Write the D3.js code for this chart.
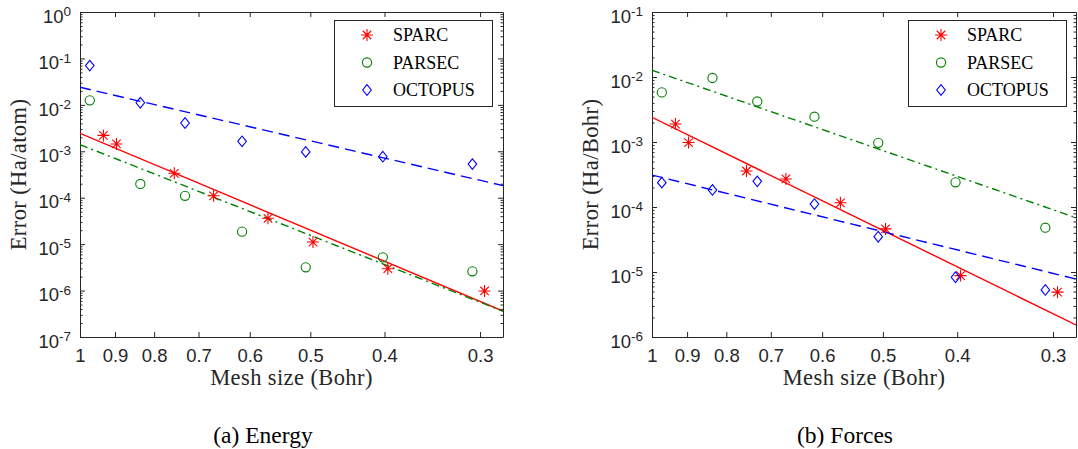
<!DOCTYPE html>
<html>
<head>
<meta charset="utf-8">
<script src="https://cdn.jsdelivr.net/npm/d3@7"></script>
<style>
  body { margin: 0; background: #fff; }
  svg { display: block; }
</style>
</head>
<body>
<script>
// mesh sizes (Bohr)
var meshSparc = [0.932, 0.896, 0.753, 0.669, 0.568, 0.496, 0.396, 0.296];
var meshOther = [0.971, 0.834, 0.729, 0.614, 0.507, 0.402, 0.307];
var fitMesh = [1, 0.28];

// (a) energy error, Ha/atom
var energySparc = [2.2e-3, 1.44e-3, 3.36e-4, 1.1e-4, 3.6e-5, 1.11e-5, 2.96e-6, 9.8e-7];
var energyParsec = [1.25e-2, 1.98e-4, 1.1e-4, 1.86e-5, 3.17e-6, 5.2e-6, 2.6e-6];
var energyOctopus = [7.0e-2, 1.11e-2, 4.07e-3, 1.64e-3, 9.7e-4, 7.65e-4, 5.3e-4];
var energyFitSparc = [2.44e-3, 3.63e-7];
var energyFitParsec = [1.39e-3, 3.6e-7];
var energyFitOctopus = [2.39e-2, 1.82e-4];

// (b) force error, Ha/Bohr
var forceSparc = [1.89e-3, 9.8e-4, 3.58e-4, 2.7e-4, 1.16e-4, 4.6e-5, 8.8e-6, 4.9e-6];
var forceParsec = [5.8e-3, 9.66e-3, 4.2e-3, 2.45e-3, 9.7e-4, 2.4e-4, 4.8e-5];
var forceOctopus = [2.37e-4, 1.83e-4, 2.48e-4, 1.11e-4, 3.49e-5, 8.3e-6, 5.3e-6];
var forceFitSparc = [2.4e-3, 1.53e-6];
var forceFitParsec = [1.27e-2, 6.84e-5];
var forceFitOctopus = [3.1e-4, 7.8e-6];

var seriesNames = ["SPARC", "PARSEC", "OCTOPUS"];
var xTicks = [1, 0.9, 0.8, 0.7, 0.6, 0.5, 0.4, 0.3];
var xTickLabels = ["1", "0.9", "0.8", "0.7", "0.6", "0.5", "0.4", "0.3"];
var energyExps = [-7, -6, -5, -4, -3, -2, -1, 0];
var forceExps = [-6, -5, -4, -3, -2, -1];

var width = 1078, height = 449;
var top_ = 12, bottom = 337;
var axisColor = "#262626";
var serif = "'Liberation Serif', 'Times New Roman', serif";
var sans = "'Liberation Sans', Arial, Helvetica, sans-serif";

var styles = [
  {color: "#ff0000", marker: "asterisk", dash: null},
  {color: "#008000", marker: "circle", dash: "8,4,2,4"},
  {color: "#0000ff", marker: "diamond", dash: "11,6"}
];

function markerPath(type) {
  if (type == "asterisk") {
    var s = 6, d = s * 0.7071;
    return `M0,${-s}V${s}M${-s},0H${s}M${-d},${-d}L${d},${d}M${-d},${d}L${d},${-d}`;
  }
  if (type == "diamond") return "M0,-5.3L4.3,0L0,5.3L-4.3,0Z";
  return d3.arc()({innerRadius: 0, outerRadius: 4.6, startAngle: 0, endAngle: 2 * Math.PI});
}

var svg = d3.select("body").append("svg")
    .attr("width", width)
    .attr("height", height)
    .attr("viewBox", [0, 0, width, height]);

function drawPanel(p, idx) {
  var x = d3.scaleLog().domain([fitMesh[0], fitMesh[1]]).range([p.left, p.right]);
  var y = d3.scaleLog()
      .domain([Math.pow(10, p.exps[0]), Math.pow(10, p.exps[p.exps.length - 1])])
      .range([bottom, top_]);

  var major = p.exps.map(e => Math.pow(10, e));
  var minor = [];
  p.exps.slice(0, -1).forEach(e => {
    for (var k = 2; k <= 9; k++) minor.push(k * Math.pow(10, e));
  });

  var g = svg.append("g").attr("color", axisColor);

  svg.append("clipPath").attr("id", "clip" + idx)
    .append("rect")
      .attr("x", p.left).attr("y", top_)
      .attr("width", p.right - p.left).attr("height", bottom - top_);

  // left axis with 10^n labels
  g.append("g")
      .attr("transform", `translate(${p.left},0)`)
      .call(d3.axisLeft(y).tickValues(major).tickSizeInner(-5).tickSizeOuter(0).tickPadding(9))
      .call(a => a.selectAll(".tick text").each(function(d) {
        var t = d3.select(this).text(null)
            .attr("dy", "0.55em")
            .attr("font-family", sans)
            .attr("font-size", 18.5)
            .attr("fill", axisColor);
        t.append("tspan").text("10");
        t.append("tspan").attr("dy", -6.5).attr("font-size", 13.5).text(Math.round(Math.log10(d)));
      }));
  g.append("g")
      .attr("transform", `translate(${p.left},0)`)
      .call(d3.axisLeft(y).tickValues(minor).tickSizeInner(-2.5).tickSizeOuter(0).tickFormat(""))
      .call(a => a.select(".domain").remove());

  // right axis (ticks only)
  g.append("g")
      .attr("transform", `translate(${p.right},0)`)
      .call(d3.axisRight(y).tickValues(major).tickSizeInner(-5).tickSizeOuter(0).tickFormat(""));
  g.append("g")
      .attr("transform", `translate(${p.right},0)`)
      .call(d3.axisRight(y).tickValues(minor).tickSizeInner(-2.5).tickSizeOuter(0).tickFormat(""))
      .call(a => a.select(".domain").remove());

  // bottom axis
  g.append("g")
      .attr("transform", `translate(0,${bottom})`)
      .call(d3.axisBottom(x).tickValues(xTicks).tickSizeInner(-5).tickSizeOuter(0).tickPadding(12)
        .tickFormat((d, i) => xTickLabels[i]))
      .call(a => a.selectAll(".tick text")
        .attr("font-family", sans).attr("font-size", 18.5).attr("fill", axisColor));

  // top axis
  g.append("g")
      .attr("transform", `translate(0,${top_})`)
      .call(d3.axisTop(x).tickValues(xTicks).tickSizeInner(-5).tickSizeOuter(0).tickFormat(""));

  // fit lines
  var line = d3.line().x(d => x(d[0])).y(d => y(d[1]));
  var plot = svg.append("g").attr("clip-path", `url(#clip${idx})`);
  p.fits.forEach((f, i) => {
    plot.append("path")
        .datum(fitMesh.map((m, j) => [m, f[j]]))
        .attr("fill", "none")
        .attr("stroke", styles[i].color)
        .attr("stroke-width", 1.4)
        .attr("stroke-dasharray", styles[i].dash)
        .attr("d", line);
  });

  // markers
  p.values.forEach((vals, i) => {
    var mesh = i == 0 ? meshSparc : meshOther;
    svg.append("g")
      .selectAll("path")
      .data(vals.map((v, j) => [mesh[j], v]))
      .join("path")
        .attr("transform", d => `translate(${x(d[0])},${y(d[1])})`)
        .attr("d", markerPath(styles[i].marker))
        .attr("fill", "none")
        .attr("stroke", styles[i].color)
        .attr("stroke-width", 1.1);
  });

  // legend
  var lg = svg.append("g").attr("transform", `translate(${p.legendX},20)`);
  lg.append("rect")
      .attr("x", 0.5).attr("y", 0.5)
      .attr("width", 158).attr("height", 86)
      .attr("fill", "#fff")
      .attr("stroke", axisColor)
      .attr("stroke-width", 1);
  seriesNames.forEach((name, i) => {
    var row = lg.append("g").attr("transform", `translate(0,${15 + i * 27.5})`);
    row.append("path")
        .attr("transform", "translate(33,0)")
        .attr("d", markerPath(styles[i].marker))
        .attr("fill", "none")
        .attr("stroke", styles[i].color)
        .attr("stroke-width", 1.1);
    row.append("text")
        .attr("x", 59).attr("y", 6)
        .attr("font-family", serif)
        .attr("font-size", 18)
        .attr("fill", "#000")
        .text(name);
  });

  // axis labels
  svg.append("text")
      .attr("x", (p.left + p.right) / 2).attr("y", 385)
      .attr("text-anchor", "middle")
      .attr("font-family", serif).attr("font-size", 22.5)
      .attr("letter-spacing", 0.4)
      .attr("fill", axisColor)
      .text("Mesh size (Bohr)");
  svg.append("text")
      .attr("transform", `translate(${p.ylabelX},${(top_ + bottom) / 2}) rotate(-90)`)
      .attr("text-anchor", "middle")
      .attr("font-family", serif).attr("font-size", 22.5)
      .attr("letter-spacing", 0.4)
      .attr("fill", axisColor)
      .text(p.ylabel);

  // caption
  svg.append("text")
      .attr("x", p.captionX).attr("y", 443)
      .attr("text-anchor", "middle")
      .attr("font-family", serif).attr("font-size", 23.5)
      .attr("fill", "#000")
      .text(p.caption);
}

drawPanel({
  left: 80, right: 503, exps: energyExps,
  values: [energySparc, energyParsec, energyOctopus],
  fits: [energyFitSparc, energyFitParsec, energyFitOctopus],
  legendX: 334, ylabelX: 26, ylabel: "Error (Ha/atom)",
  captionX: 263, caption: "(a) Energy"
}, 0);

drawPanel({
  left: 652, right: 1076, exps: forceExps,
  values: [forceSparc, forceParsec, forceOctopus],
  fits: [forceFitSparc, forceFitParsec, forceFitOctopus],
  legendX: 908, ylabelX: 598, ylabel: "Error (Ha/Bohr)",
  captionX: 845, caption: "(b) Forces"
}, 1);
</script>
</body>
</html>
